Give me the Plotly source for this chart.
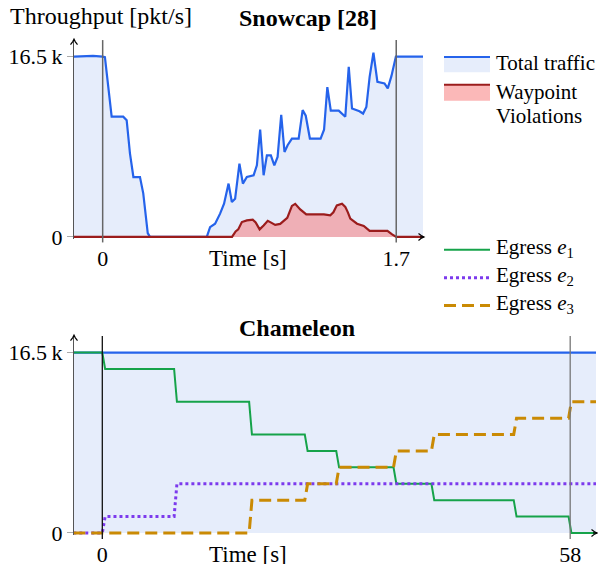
import plotly.graph_objects as go

W, H = 598, 564          # reference picture size (layout computed in these pixels)
H_FIG = 575              # figure height (page is captured slightly taller than 564)

# ---------------- data ----------------
# Snowcap [28]: time (s) and total traffic (pkt/s)
snow_time = [-0.17, -0.056, 0.0, 0.013, 0.052, 0.119, 0.139, 0.158, 0.178, 0.216, 0.235, 0.261, 0.274,
             0.603, 0.622, 0.651, 0.680, 0.703, 0.729, 0.748, 0.767, 0.792, 0.812, 0.835, 0.874, 0.893,
             0.912, 0.932, 0.951, 0.974, 0.994, 1.013, 1.034, 1.053, 1.071, 1.096, 1.135, 1.158, 1.176,
             1.200, 1.262, 1.282, 1.301, 1.321, 1.367, 1.405, 1.425, 1.444, 1.487, 1.508, 1.527, 1.546,
             1.568, 1.591, 1.632, 1.651, 1.672, 1.698, 1.86]
snow_total = [16500, 16570, 16500, 16450, 11000, 11000, 10680, 7650, 5480, 5480, 3990, 350, 0,
              0, 900, 1210, 2130, 3040, 4880, 3190, 3500, 6710, 4880, 5480, 5640, 6550,
              9830, 5640, 7470, 7470, 6550, 7320, 11180, 7770, 8390, 9000, 9000, 11600, 11090,
              9000, 9000, 9810, 13700, 11550, 11550, 11000, 15570, 11750, 11500, 11290, 11900, 14650,
              16850, 14190, 14040, 13590, 14710, 16500, 16500]

# Snowcap [28]: waypoint violations (pkt/s)
viol_time = [-0.17, 0.749, 0.770, 0.785, 0.806, 0.835, 0.860, 0.869, 0.886, 0.909, 0.932, 0.956,
             0.973, 0.999, 1.028, 1.069, 1.096, 1.115, 1.144, 1.179, 1.281, 1.318, 1.336, 1.356,
             1.386, 1.405, 1.420, 1.434, 1.473, 1.512, 1.546, 1.649, 1.676, 1.700, 1.86]
viol_vals = [0, 0, 500, 690, 1360, 1510, 1560, 1580, 1330, 690, 1050, 1470,
             1330, 1100, 1190, 1740, 2840, 3030, 2520, 2060, 2060, 1970, 2250, 2890,
             3030, 2750, 2250, 1670, 1210, 1010, 550, 550, 230, 0, 0]

# Chameleon: step times (s) and per-egress traffic after each step (pkt/s)
cham_range = [-3.6, 61.3]
cham_steps = [0.0, 8.9, 18.2, 25.1, 29.0, 36.1, 40.8, 51.0, 57.8]
e1_levels = [16500, 15000, 12000, 9000, 7500, 6000, 4500, 3000, 1500, 0]
e2_levels = [0, 1500, 4500, 4500, 4500, 4500, 4500, 4500, 4500, 4500]
e3_levels = [0, 0, 0, 3000, 4500, 6000, 7500, 9000, 10500, 12000]
cham_total = [16500, 16500]

x_ticks_top = [0, 1.7]
x_ticks_bot = [0, 58]
y_ticks = [0, 16500]
y_ticktext = ["0", "16.5\u2009k"]

# ---------------- style ----------------
FONT = "Liberation Serif"
FS = 21
FS_TICK = 22
BLUE = "#2563eb"
BLUE_FILL = "#e6edfb"
RED = "#9b1c1c"
RED_FILL = "rgba(248,113,113,0.5)"
GREEN = "#16a34a"
PURPLE = "#7c3aed"
ORANGE = "#ca8a04"
AX = "#555555"


def fx(p):
    return p / W


def fy(p):
    return 1 - p / H


RAMP = 0.35


def steps(levels):
    xs = [cham_range[0]]
    ys = [levels[0]]
    for i, t in enumerate(cham_steps):
        xs += [t, t + RAMP]
        ys += [levels[i], levels[i + 1]]
    xs.append(cham_range[1])
    ys.append(levels[-1])
    return xs, ys


fig = go.Figure()

# Top: Snowcap
fig.add_trace(go.Scatter(x=snow_time, y=snow_total, mode="lines", fill="tozeroy",
                         fillcolor=BLUE_FILL, line=dict(color=BLUE, width=2.2),
                         xaxis="x", yaxis="y", showlegend=False, name="Total traffic"))
fig.add_trace(go.Scatter(x=viol_time, y=viol_vals, mode="lines", fill="tozeroy",
                         fillcolor=RED_FILL, line=dict(color=RED, width=2.2),
                         xaxis="x", yaxis="y", showlegend=False, name="Waypoint Violations"))

# Bottom: Chameleon
fig.add_trace(go.Scatter(x=cham_range, y=cham_total, mode="lines", fill="tozeroy",
                         fillcolor=BLUE_FILL, line=dict(color=BLUE, width=2.2),
                         xaxis="x2", yaxis="y2", showlegend=False, name="Total traffic"))
for lv, col, dash, wd, nm in [(e1_levels, GREEN, "solid", 2, "Egress e1"),
                              (e2_levels, PURPLE, "3px,3px", 3, "Egress e2"),
                              (e3_levels, ORANGE, "12px,6px", 3, "Egress e3")]:
    xs, ys = steps(lv)
    fig.add_trace(go.Scatter(x=xs, y=ys, mode="lines", line=dict(color=col, width=wd, dash=dash),
                             xaxis="x2", yaxis="y2", showlegend=False, name=nm))

Z_TOP, Z_BOT = 236.5, 532.0
T_TOP, T_BOT = 40.0, 335.5
PPU = 180 / 16500.0
YMAX = (Z_TOP - T_TOP) / PPU
YMIN = -2.5 / PPU

axis_common = dict(showgrid=False, zeroline=False, showline=False, ticks="",
                   ticklabelstandoff=4,
                   tickfont=dict(family=FONT, size=FS_TICK, color="black"))
yaxis_common = dict(tickvals=y_ticks, ticktext=y_ticktext, ticks="outside", ticklen=6,
                    tickcolor="#aaaaaa", showgrid=False, showline=True, linecolor=AX, linewidth=1.2,
                    zeroline=True, zerolinecolor=AX, zerolinewidth=1.2,
                    tickfont=dict(family=FONT, size=FS_TICK, color="black"))

fig.update_layout(
    width=W, height=H_FIG, margin=dict(l=0, r=0, t=0, b=0),
    paper_bgcolor="white", plot_bgcolor="rgba(0,0,0,0)",
    font=dict(family=FONT, size=FS, color="black"),
    showlegend=False,
    xaxis=dict(domain=[fx(74), fx(423)], range=[-0.166, 1.855], anchor="y",
               tickvals=x_ticks_top, ticktext=["0", "1.7"], **axis_common),
    yaxis=dict(domain=[fy(Z_TOP + 2.5), fy(T_TOP)], range=[YMIN, YMAX], anchor="x", **yaxis_common),
    xaxis2=dict(domain=[fx(74), fx(596)], range=[-3.51, 61.2], anchor="y2",
                tickvals=x_ticks_bot, ticktext=["0", "58"], **axis_common),
    yaxis2=dict(domain=[fy(Z_BOT + 2.5), fy(T_BOT)], range=[YMIN, YMAX], anchor="x2", **yaxis_common),
)

shapes = []
# vertical marker lines
for xv, col in [(0, "#666666"), (1.7, "#666666")]:
    shapes.append(dict(type="line", xref="x", yref="paper", x0=xv, x1=xv,
                       y0=fy(242), y1=fy(T_TOP), line=dict(color=col, width=1.5), layer="above"))
for xv, col in [(0, "#111111"), (58, "#777777")]:
    shapes.append(dict(type="line", xref="x2", yref="paper", x0=xv, x1=xv,
                       y0=fy(538), y1=fy(T_BOT), line=dict(color=col, width=1.3), layer="above"))


def ppath(pts):
    return "M " + " L ".join("%.5f,%.5f" % (fx(a), fy(b)) for a, b in pts)


# axis arrowheads (open chevrons)
for (tx, ty) in [(74, T_TOP - 1), (74, T_BOT - 1)]:
    shapes.append(dict(type="path", xref="paper", yref="paper",
                       path=ppath([(tx - 3.5, ty + 5.5), (tx - 1.2, ty + 2.5), (tx, ty),
                                   (tx + 1.2, ty + 2.5), (tx + 3.5, ty + 5.5)]),
                       line=dict(color="black", width=1.2), layer="above"))
for (tx, ty) in [(424, Z_TOP), (597, Z_BOT)]:
    shapes.append(dict(type="path", xref="paper", yref="paper",
                       path=ppath([(tx - 5.5, ty - 3.5), (tx - 2.5, ty - 1.2), (tx, ty),
                                   (tx - 2.5, ty + 1.2), (tx - 5.5, ty + 3.5)]),
                       line=dict(color="black", width=1.2), layer="above"))
    shapes.append(dict(type="line", xref="paper", yref="paper", x0=fx(tx - 4), x1=fx(tx),
                       y0=fy(ty), y1=fy(ty), line=dict(color="black", width=1.2), layer="above"))

# legend swatches
shapes.append(dict(type="rect", xref="paper", yref="paper", x0=fx(444), x1=fx(490),
                   y0=fy(72), y1=fy(57), fillcolor=BLUE_FILL, line=dict(width=0)))
shapes.append(dict(type="line", xref="paper", yref="paper", x0=fx(444), x1=fx(490),
                   y0=fy(57), y1=fy(57), line=dict(color=BLUE, width=2)))
shapes.append(dict(type="rect", xref="paper", yref="paper", x0=fx(444), x1=fx(490),
                   y0=fy(100.5), y1=fy(84.5), fillcolor=RED_FILL, line=dict(width=0)))
shapes.append(dict(type="line", xref="paper", yref="paper", x0=fx(444), x1=fx(490),
                   y0=fy(84.5), y1=fy(84.5), line=dict(color=RED, width=2)))
for yy, col, dash, wd in [(249.3, GREEN, "solid", 2), (277.3, PURPLE, "3px,3px", 3),
                          (305, ORANGE, "12px,6px", 3)]:
    shapes.append(dict(type="line", xref="paper", yref="paper", x0=fx(444), x1=fx(490),
                       y0=fy(yy), y1=fy(yy), line=dict(color=col, width=wd, dash=dash)))
fig.update_layout(shapes=shapes)

ann = []


def text(x, y, s, xanchor="left", size=FS, bold=False):
    if bold:
        s = "<b>" + s + "</b>"
    ann.append(dict(x=fx(x), y=fy(y), xref="paper", yref="paper", text=s, showarrow=False,
                    xanchor=xanchor, yanchor="middle", borderpad=0,
                    font=dict(family=FONT, size=size, color="black")))


text(9, 16, "Throughput [pkt/s]", size=24)
text(238, 18, "Snowcap [28]", size=24, bold=True)
text(238, 327, "Chameleon", size=24, bold=True)
text(248, 258, "Time [s]", xanchor="center", size=23)
text(248, 554, "Time [s]", xanchor="center", size=23)
text(495, 63, "Total traffic")
text(495, 92, "Waypoint")
text(495, 116, "Violations")
text(495, 248, "Egress <i>e</i><sub>1</sub>")
text(495, 276, "Egress <i>e</i><sub>2</sub>")
text(495, 303, "Egress <i>e</i><sub>3</sub>")

fig.update_layout(annotations=ann)

fig.write_html("out.html", config={"displayModeBar": False},
               post_script="document.body.style.margin='0px';")
